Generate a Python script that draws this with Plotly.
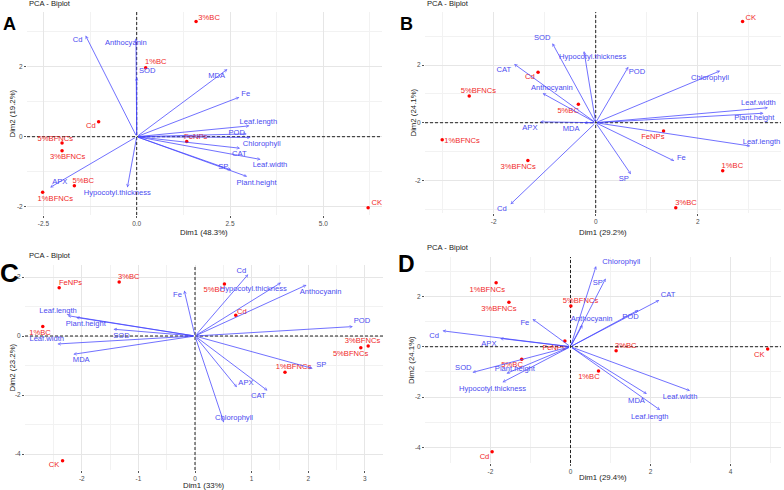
import plotly.graph_objects as go

# ---------------- DATA ----------------
# Panel A
A_ind = ["3%BC", "1%BC", "Cd", "5%BFNCs", "3%BFNCs", "5%BC", "1%BFNCs", "FeNPs", "CK"]
A_ind_x = [1.59, 0.24, -1.02, -2.00, -2.00, -1.67, -2.52, 1.34, 6.20]
A_ind_y = [3.29, 1.97, 0.43, -0.18, -0.40, -1.40, -1.59, -0.14, -2.03]
A_ind_lx = [1.94, 0.51, -1.23, -2.18, -1.85, -1.43, -2.18, 1.58, 6.43]
A_ind_ly = [3.38, 2.13, 0.31, -0.07, -0.58, -1.26, -1.79, 0.00, -1.91]
A_var = ["Cd", "Anthocyanin", "SOD", "MDA", "Fe", "Leaf.length", "POD", "Chlorophyll",
         "CAT", "Leaf.width", "SP", "Plant.height", "APX", "Hypocotyl.thickness"]
A_var_x = [-1.37, -0.02, 0.00, 2.43, 2.75, 3.02, 2.95, 3.05, 2.77, 3.32, 2.53, 2.96, -2.32, -0.25]
A_var_y = [2.89, 2.81, 1.70, 1.93, 1.13, 0.31, 0.08, -0.02, -0.33, -0.65, -0.95, -1.14, -1.45, -1.45]
A_var_lx = [-1.58, -0.29, 0.28, 2.14, 2.92, 3.26, 2.68, 3.35, 2.75, 3.57, 2.32, 3.21, -2.06, -0.52]
A_var_ly = [2.76, 2.67, 1.86, 1.74, 1.22, 0.43, 0.11, -0.21, -0.50, -0.81, -0.86, -1.33, -1.29, -1.60]

# Panel B
B_ind = ["CK", "Cd", "5%BFNCs", "5%BC", "1%BFNCs", "3%BFNCs", "FeNPs", "1%BC", "3%BC"]
B_ind_x = [2.88, -1.13, -2.48, -0.34, -3.01, -1.33, 1.33, 2.49, 1.57]
B_ind_y = [3.51, 1.75, 0.93, 0.64, -0.59, -1.31, -0.29, -1.67, -2.95]
B_ind_lx = [3.04, -1.29, -2.30, -0.54, -2.62, -1.52, 1.12, 2.68, 1.77]
B_ind_ly = [3.62, 1.58, 1.11, 0.41, -0.63, -1.53, -0.51, -1.50, -2.80]
B_var = ["SOD", "Hypocotyl.thickness", "CAT", "POD", "Chlorophyll", "Anthocyanin", "Leaf.width",
         "Plant.height", "Leaf.length", "APX", "MDA", "Fe", "SP", "Cd"]
B_var_x = [-0.85, -0.23, -1.60, 0.64, 2.44, -1.04, 3.38, 3.29, 3.03, -1.09, -0.23, 1.54, 0.69, -1.67]
B_var_y = [2.76, 2.49, 2.04, 1.94, 1.80, 1.02, 0.52, 0.33, -0.81, 0.03, 0.00, -1.33, -1.79, -2.83]
B_var_lx = [-1.05, -0.06, -1.80, 0.81, 2.24, -0.86, 3.19, 3.11, 3.25, -1.29, -0.48, 1.68, 0.55, -1.84]
B_var_ly = [2.93, 2.29, 1.81, 1.74, 1.54, 1.19, 0.67, 0.15, -0.68, -0.17, -0.22, -1.24, -1.97, -3.01]

# Panel C
C_ind = ["FeNPs", "3%BC", "5%BC", "Cd", "1%BC", "3%BFNCs", "5%BFNCs", "1%BFNCs", "CK"]
C_ind_x = [-2.40, -1.34, 0.52, 0.72, -2.69, 3.06, 2.93, 1.59, -2.34]
C_ind_y = [1.64, 1.83, 1.76, 0.70, 0.32, -0.34, -0.40, -1.23, -4.23]
C_ind_lx = [-2.20, -1.17, 0.34, 0.83, -2.74, 2.96, 2.75, 1.74, -2.49]
C_ind_ly = [1.79, 1.99, 1.56, 0.82, 0.11, -0.16, -0.61, -1.06, -4.38]
C_var = ["Cd", "Hypocotyl.thickness", "Anthocyanin", "Fe", "POD", "Leaf.length", "Plant.height",
         "SOD", "Leaf.width", "MDA", "SP", "APX", "CAT", "Chlorophyll"]
C_var_x = [0.94, 1.52, 1.97, -0.19, 2.79, -2.25, -2.10, -1.44, -2.43, -2.15, 2.08, 0.74, 1.28, 0.51]
C_var_y = [2.09, 1.81, 1.73, 1.54, 0.32, 0.69, 0.63, 0.23, -0.27, -0.62, -1.10, -1.74, -1.85, -2.93]
C_var_lx = [0.82, 1.03, 2.22, -0.31, 2.95, -2.42, -1.93, -1.30, -2.62, -2.01, 2.23, 0.90, 1.12, 0.69]
C_var_ly = [2.20, 1.59, 1.50, 1.37, 0.51, 0.85, 0.41, -0.02, -0.11, -0.81, -0.98, -1.60, -2.03, -2.79]

# Panel D
D_ind = ["1%BFNCs", "3%BFNCs", "5%BFNCs", "FeNPs", "3%BC", "CK", "5%BC", "1%BC", "Cd"]
D_ind_x = [-1.86, -1.54, 0.01, -0.14, 1.14, 4.93, -1.22, 0.70, -1.96]
D_ind_y = [2.54, 1.76, 1.62, 0.23, -0.16, -0.09, -0.50, -0.96, -4.17]
D_ind_lx = [-2.08, -1.79, 0.25, -0.41, 1.38, 4.72, -1.46, 0.46, -2.15]
D_ind_ly = [2.25, 1.48, 1.79, -0.04, 0.03, -0.33, -0.73, -1.19, -4.37]
D_var = ["Chlorophyll", "SP", "CAT", "POD", "Anthocyanin", "Fe", "Cd", "APX", "SOD",
         "Plant.height", "Hypocotyl.thickness", "MDA", "Leaf.width", "Leaf.length"]
D_var_x = [0.64, 0.88, 2.22, 1.70, 0.30, -0.95, -3.20, -1.76, -2.45, -1.60, -1.70, 1.91, 2.99, 2.24]
D_var_y = [3.20, 2.71, 1.85, 1.46, 0.86, 1.10, 0.63, 0.33, -1.02, -1.06, -1.41, -1.88, -1.75, -2.51]
D_var_lx = [1.27, 0.68, 2.44, 1.50, 0.53, -1.14, -3.41, -2.04, -2.68, -1.39, -1.95, 1.65, 2.74, 1.98]
D_var_ly = [3.35, 2.52, 2.05, 1.19, 1.09, 0.95, 0.43, 0.11, -0.86, -0.88, -1.69, -2.14, -2.01, -2.78]

# Axis labels / ticks
A_xticks = [-2.5, 0.0, 2.5, 5.0]
A_yticks = [-2, 0, 2]
B_xticks = [-2, 0, 2]
B_yticks = [-2, 0, 2]
C_xticks = [-2, -1, 0, 1, 2, 3]
C_yticks = [-4, -2, 0, 2]
D_xticks = [-2, 0, 2, 4]
D_yticks = [-4, -2, 0, 2]

# ---------------- STYLE / LAYOUT ----------------
W, H = 784, 490
FONT = "Liberation Sans"
VAR_COL = "#4B4BF0"
ARROW_COL = "rgba(70,70,255,0.85)"
IND_COL = "#FF0000"
IND_TXT = "#F02828"

panels = [
    dict(letter="A", ax="", ind=(A_ind, A_ind_x, A_ind_y, A_ind_lx, A_ind_ly),
         var=(A_var, A_var_x, A_var_y, A_var_lx, A_var_ly),
         px=(27, 382), py=(12, 215), xr=(-2.939, 6.572), yr=(-2.237, 3.563),
         xt=A_xticks, yt=A_yticks, xm=[-1.25, 1.25, 3.75, 6.25], ym=[-1, 1, 3], xfmt=".1f",
         xtitle="Dim1 (48.3%)", ytitle="Dim2 (19.2%)",
         title_pos=(27, 4), letter_pos=(9, 24), letter_size=18, xtitle_y=232, ytitle_x=12),
    dict(letter="B", ax="2", ind=(B_ind, B_ind_x, B_ind_y, B_ind_lx, B_ind_ly),
         var=(B_var, B_var_x, B_var_y, B_var_lx, B_var_ly),
         px=(425, 781), py=(12, 213), xr=(-3.347, 3.633), yr=(-3.135, 3.844),
         xt=B_xticks, yt=B_yticks, xm=[-3, -1, 1, 3], ym=[-3, -1, 1, 3], xfmt="d",
         xtitle="Dim1 (29.2%)", ytitle="Dim2 (24.1%)",
         title_pos=(425, 4), letter_pos=(406, 24), letter_size=18, xtitle_y=232, ytitle_x=413),
    dict(letter="C", ax="3", ind=(C_ind, C_ind_x, C_ind_y, C_ind_lx, C_ind_ly),
         var=(C_var, C_var_x, C_var_y, C_var_lx, C_var_ly),
         px=(25, 383), py=(265, 470), xr=(-3.004, 3.322), yr=(-4.542, 2.407),
         xt=C_xticks, yt=C_yticks, xm=[-2.5, -1.5, -0.5, 0.5, 1.5, 2.5], ym=[-3, -1, 1], xfmt="d",
         xtitle="Dim1 (33%)", ytitle="Dim2 (23.2%)",
         title_pos=(27, 255), letter_pos=(9.5, 273), letter_size=26, xtitle_y=485, ytitle_x=12),
    dict(letter="D", ax="4", ind=(D_ind, D_ind_x, D_ind_y, D_ind_lx, D_ind_ly),
         var=(D_var, D_var_x, D_var_y, D_var_lx, D_var_ly),
         px=(425, 781), py=(257, 463), xr=(-3.638, 5.263), yr=(-4.615, 3.56),
         xt=D_xticks, yt=D_yticks, xm=[-3, -1, 1, 3, 5], ym=[-3, -1, 1, 3], xfmt="d",
         xtitle="Dim1 (29.4%)", ytitle="Dim2 (24.1%)",
         title_pos=(425, 247), letter_pos=(406, 264), letter_size=23, xtitle_y=477, ytitle_x=411),
]

fig = go.Figure()
annotations = []


def pxx(x):
    return x / W


def pxy(y):
    return 1 - y / H


for p in panels:
    xa = "x" + p["ax"]
    ya = "y" + p["ax"]
    names, ix, iy, ilx, ily = p["ind"]
    vnames, vx, vy, vlx, vly = p["var"]

    # Dashed reference lines at 0 (drawn as traces spanning the axis range)
    fig.add_trace(go.Scatter(x=list(p["xr"]), y=[0, 0], mode="lines", xaxis=xa, yaxis=ya,
                             line=dict(color="#222222", width=1, dash="3px,2px"),
                             showlegend=False, hoverinfo="skip"))
    fig.add_trace(go.Scatter(x=[0, 0], y=list(p["yr"]), mode="lines", xaxis=xa, yaxis=ya,
                             line=dict(color="#222222", width=1, dash="3px,2px"),
                             showlegend=False, hoverinfo="skip"))

    # Variable arrows
    for tx, ty in zip(vx, vy):
        annotations.append(dict(
            x=tx, y=ty, ax=0, ay=0, xref=xa, yref=ya, axref=xa, ayref=ya,
            showarrow=True, arrowhead=5, arrowsize=0.6, arrowwidth=0.9,
            arrowcolor=ARROW_COL, text="", standoff=0, startstandoff=0))

    # Individuals
    fig.add_trace(go.Scatter(x=ix, y=iy, mode="markers", xaxis=xa, yaxis=ya,
                             marker=dict(color=IND_COL, size=3.5), showlegend=False,
                             hoverinfo="skip", cliponaxis=False))
    fig.add_trace(go.Scatter(x=ilx, y=ily, mode="text", text=names, xaxis=xa, yaxis=ya,
                             textfont=dict(family=FONT, size=7.6, color=IND_TXT),
                             textposition="middle center", showlegend=False,
                             hoverinfo="skip", cliponaxis=False))
    fig.add_trace(go.Scatter(x=vlx, y=vly, mode="text", text=vnames, xaxis=xa, yaxis=ya,
                             textfont=dict(family=FONT, size=7.6, color=VAR_COL),
                             textposition="middle center", showlegend=False,
                             hoverinfo="skip", cliponaxis=False))

    common = dict(showline=False, zeroline=False, showgrid=True,
                  gridcolor="#E6E6E6", gridwidth=0.8,
                  ticks="outside", ticklen=2, tickwidth=0.8, tickcolor="#555555",
                  tickfont=dict(family=FONT, size=6.5, color="#4D4D4D"),
                  fixedrange=True)
    xkey = "xaxis" + p["ax"]
    ykey = "yaxis" + p["ax"]
    fig.update_layout(**{
        xkey: dict(common, domain=[pxx(p["px"][0]), pxx(p["px"][1])], range=list(p["xr"]),
                   anchor=ya, tickmode="array", tickvals=p["xt"],
                   ticktext=[format(v, p["xfmt"]) if p["xfmt"] != "d" else str(int(v)) for v in p["xt"]],
                   minor=dict(tickvals=p["xm"], showgrid=True, gridcolor="#F2F2F2",
                              gridwidth=0.6)),
        ykey: dict(common, domain=[pxy(p["py"][1]), pxy(p["py"][0])], range=list(p["yr"]),
                   anchor=xa, tickmode="array", tickvals=p["yt"],
                   ticktext=[str(v) for v in p["yt"]],
                   minor=dict(tickvals=p["ym"], showgrid=True, gridcolor="#F2F2F2",
                              gridwidth=0.6)),
    })

    # Titles, letters, axis titles
    annotations.append(dict(text="PCA - Biplot", xref="paper", yref="paper",
                            x=pxx(p["title_pos"][0]), y=pxy(p["title_pos"][1]),
                            xanchor="left", yanchor="middle", showarrow=False,
                            font=dict(family=FONT, size=7.6, color="#222222")))
    annotations.append(dict(text="<b>" + p["letter"] + "</b>", xref="paper", yref="paper",
                            x=pxx(p["letter_pos"][0]), y=pxy(p["letter_pos"][1]),
                            xanchor="center", yanchor="middle", showarrow=False,
                            font=dict(family=FONT, size=p["letter_size"], color="#000000")))
    annotations.append(dict(text=p["xtitle"], xref="paper", yref="paper",
                            x=pxx((p["px"][0] + p["px"][1]) / 2), y=pxy(p["xtitle_y"]),
                            xanchor="center", yanchor="middle", showarrow=False,
                            font=dict(family=FONT, size=7.8, color="#222222")))
    annotations.append(dict(text=p["ytitle"], xref="paper", yref="paper",
                            x=pxx(p["ytitle_x"]), y=pxy((p["py"][0] + p["py"][1]) / 2),
                            xanchor="center", yanchor="middle", showarrow=False, textangle=-90,
                            font=dict(family=FONT, size=7.8, color="#222222")))

fig.update_layout(width=W, height=H, autosize=False,
                  margin=dict(l=0, r=0, t=0, b=0),
                  paper_bgcolor="white", plot_bgcolor="white",
                  annotations=annotations, showlegend=False)

fig.write_html("out.html", config={"displayModeBar": False},
               post_script="document.body.style.margin='0px';")
